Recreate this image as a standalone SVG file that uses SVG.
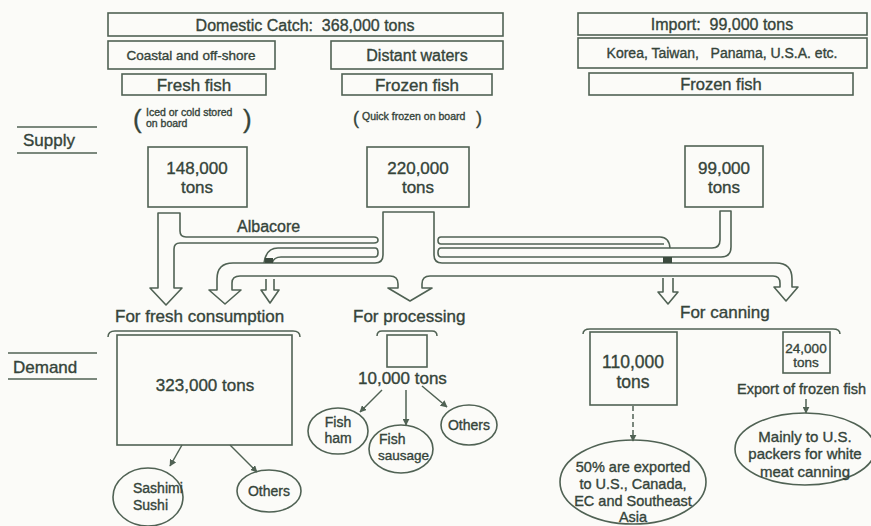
<svg xmlns="http://www.w3.org/2000/svg" width="871" height="526" viewBox="0 0 871 526">
<defs>
<style>
.t{font-family:"Liberation Sans",Arial,sans-serif;fill:#35443a;stroke:#35443a;stroke-width:0.35}
.m{text-anchor:middle}
.b{fill:none;stroke:#506254;stroke-width:1.6}
.p{fill:none;stroke:#506254;stroke-width:1.6;stroke-linejoin:round}
.l{fill:none;stroke:#506254;stroke-width:1.5}
</style>
<marker id="ah" viewBox="0 0 10 10" refX="9" refY="5" markerWidth="7" markerHeight="7" markerUnits="userSpaceOnUse" orient="auto">
<path d="M0,0 L10,5 L0,10 Z" fill="#506254"/>
</marker>
</defs>
<rect width="871" height="526" fill="#fbfbf8"/>

<g id="labels">
<line class="l" x1="17" y1="127" x2="97" y2="127"/>
<text class="t" x="23" y="146" font-size="17">Supply</text>
<line class="l" x1="17" y1="153" x2="97" y2="153"/>
<line class="l" x1="8" y1="353" x2="97" y2="353"/>
<text class="t" x="13" y="373" font-size="17">Demand</text>
<line class="l" x1="8" y1="379" x2="97" y2="379"/>
</g>

<g id="domestic">
<rect class="b" x="108" y="13" width="395" height="23"/>
<text class="t m" x="305" y="31" font-size="16" xml:space="preserve">Domestic Catch:  368,000 tons</text>
</g>
<g id="coastal">
<rect class="b" x="108" y="41" width="167" height="28"/>
<text class="t m" x="191" y="60" font-size="13.5">Coastal and off-shore</text>
</g>
<g id="distant">
<rect class="b" x="331" y="41" width="172" height="28"/>
<text class="t m" x="417" y="61" font-size="16">Distant waters</text>
</g>
<g id="freshfish">
<rect class="b" x="122" y="74" width="144" height="21"/>
<text class="t m" x="194" y="91" font-size="17">Fresh fish</text>
<text class="t" x="133" y="128" font-size="26" stroke-width="0">(</text>
<text class="t" x="146" y="116" font-size="10.5" stroke-width="0.2">Iced or cold stored</text>
<text class="t" x="146" y="127" font-size="10.5" stroke-width="0.2">on board</text>
<text class="t" x="243" y="128" font-size="26" stroke-width="0">)</text>
</g>
<g id="frozenfish">
<rect class="b" x="342" y="74" width="150" height="21"/>
<text class="t m" x="417" y="91" font-size="17">Frozen fish</text>
<text class="t" x="353" y="124" font-size="18" stroke-width="0">(</text>
<text class="t" x="362" y="120" font-size="10.5" stroke-width="0.2">Quick frozen on board</text>
<text class="t" x="476" y="124" font-size="18" stroke-width="0">)</text>
</g>
<g id="import">
<rect class="b" x="578" y="13" width="289" height="22"/>
<text class="t m" x="722" y="30" font-size="16" xml:space="preserve">Import:  99,000 tons</text>
</g>
<g id="countries">
<rect class="b" x="578" y="38" width="289" height="30"/>
<text class="t m" x="722" y="58" font-size="14" xml:space="preserve">Korea, Taiwan,   Panama, U.S.A. etc.</text>
</g>
<g id="importfrozen">
<rect class="b" x="589" y="73" width="264" height="22"/>
<text class="t m" x="721" y="90" font-size="16.5">Frozen fish</text>
</g>

<g id="s148">
<rect class="b" x="148" y="147" width="99" height="60"/>
<text class="t m" x="197" y="174" font-size="17">148,000</text>
<text class="t m" x="197" y="193" font-size="17">tons</text>
</g>
<g id="s220">
<rect class="b" x="367" y="147" width="102" height="60"/>
<text class="t m" x="418" y="174" font-size="17">220,000</text>
<text class="t m" x="418" y="193" font-size="17">tons</text>
</g>
<g id="s99">
<rect class="b" x="685" y="146" width="78" height="61"/>
<text class="t m" x="724" y="174" font-size="17">99,000</text>
<text class="t m" x="724" y="193" font-size="17">tons</text>
</g>

<g id="connectors">
<path class="p" d="M383,212 H434 V255 Q434,263 442,263 H776 Q792,263 792,279 V287 H798 L786,301 L774,287 H780 V283 Q780,276 773,276 H430 Q422,276 422,284 V288 H432 L410,301 L388,288 H398 V284 Q398,276 390,276 H240 Q232,276 232,283 V290 H241 L225,304 L209,290 H217 V279 Q217,263 233,263 H375 Q383,263 383,255 Z"/>
<path class="p" d="M158,213 H180 V231 Q180,237 186,237 H374 Q378,237 378,240 Q378,243 374,243 H180 Q174,243 174,249 V288 H182 L166,305 L150,288 H158 Z"/>
<path class="p" d="M664,244 H441 Q438,244 438,240.5 Q438,237 441,237 H660 Q669,237 670,248"/>
<path class="p" d="M720,211 H731 V247 Q731,257 721,257 H441 Q438,257 438,252.5 Q438,248 441,248 H712 Q720,248 720,240 Z"/>
<path class="p" d="M264,263 Q266,248 278,248 H375 Q378,248 378,252.5 Q378,257 375,257 H281 Q274,257 272,263"/>
<rect x="265" y="258" width="8" height="5" fill="#3b4a3e"/>
<rect x="663" y="257" width="9" height="6" fill="#3b4a3e"/>
<path class="p" d="M266,279 V290 H261 L270,303 L279,290 H274 V279"/>
<path class="p" d="M663,278 V292 H658 L668,304 L678,292 H673 V278"/>
<text class="t" x="237" y="232" font-size="16">Albacore</text>

<path class="l" d="M108,337 Q108,331 115,331 H293 Q300,331 300,337"/>
<path class="l" d="M377,336 Q377,331 382,331 H432 Q437,331 437,336"/>
<path class="l" d="M583,334 Q583,329 590,329 H833 Q840,329 840,334"/>

<line class="l" x1="182" y1="445" x2="170" y2="466" marker-end="url(#ah)"/>
<line class="l" x1="230" y1="445" x2="257" y2="472" marker-end="url(#ah)"/>
<line class="l" x1="382" y1="390" x2="360" y2="412" marker-end="url(#ah)"/>
<line class="l" x1="406" y1="390" x2="406" y2="425" marker-end="url(#ah)"/>
<line class="l" x1="422" y1="386" x2="447" y2="407" marker-end="url(#ah)"/>
<line class="l" x1="633" y1="406" x2="633" y2="441" stroke-dasharray="5,3" marker-end="url(#ah)"/>
<line class="l" x1="806" y1="399" x2="806" y2="413" marker-end="url(#ah)"/>
</g>

<g id="fresh">
<text class="t" x="115" y="322" font-size="17">For fresh consumption</text>
<rect class="b" x="117" y="335" width="175" height="110"/>
<text class="t m" x="205" y="391" font-size="17">323,000 tons</text>
</g>
<g id="sashimi">
<ellipse class="b" cx="148" cy="497" rx="35" ry="29"/>
<text class="t" x="133" y="493" font-size="14">Sashimi</text>
<text class="t" x="133" y="510" font-size="14">Sushi</text>
</g>
<g id="others1">
<ellipse class="b" cx="269" cy="491" rx="32" ry="21"/>
<text class="t m" x="269" y="496" font-size="14">Others</text>
</g>

<g id="processing">
<text class="t" x="353" y="322" font-size="17">For processing</text>
<rect class="b" x="387" y="335" width="40" height="32"/>
<text class="t" x="358" y="384" font-size="17">10,000 tons</text>
</g>
<g id="fishham">
<ellipse class="b" cx="338" cy="431" rx="30" ry="23"/>
<text class="t m" x="338" y="427" font-size="14">Fish</text>
<text class="t m" x="338" y="443" font-size="14">ham</text>
</g>
<g id="fishsausage">
<ellipse class="b" cx="401" cy="449" rx="32" ry="24"/>
<text class="t" x="379" y="444" font-size="14">Fish</text>
<text class="t" x="378" y="460" font-size="13.5">sausage</text>
</g>
<g id="others2">
<ellipse class="b" cx="469" cy="425" rx="28" ry="20"/>
<text class="t m" x="469" y="430" font-size="14">Others</text>
</g>

<g id="canning">
<text class="t" x="680" y="318" font-size="17">For canning</text>
</g>
<g id="c110">
<rect class="b" x="590" y="332" width="87" height="73"/>
<text class="t m" x="633" y="368" font-size="17.5">110,000</text>
<text class="t m" x="633" y="388" font-size="17.5">tons</text>
</g>
<g id="export50">
<ellipse class="b" cx="633" cy="482" rx="73" ry="42"/>
<text class="t m" x="633" y="472" font-size="14.5">50% are exported</text>
<text class="t m" x="633" y="489" font-size="14.5">to U.S., Canada,</text>
<text class="t m" x="633" y="506" font-size="14.5">EC and Southeast</text>
<text class="t m" x="633" y="522" font-size="14.5">Asia</text>
</g>
<g id="c24">
<rect class="b" x="783" y="332" width="47" height="41"/>
<text class="t m" x="806" y="353" font-size="13.5">24,000</text>
<text class="t m" x="806" y="367" font-size="13.5">tons</text>
<text class="t" x="737" y="394" font-size="14.5">Export of frozen fish</text>
</g>
<g id="mainly">
<ellipse class="b" cx="805" cy="449" rx="70" ry="36"/>
<text class="t m" x="805" y="442" font-size="15">Mainly to U.S.</text>
<text class="t m" x="805" y="459" font-size="15">packers for white</text>
<text class="t m" x="805" y="477" font-size="15">meat canning</text>
</g>
</svg>
